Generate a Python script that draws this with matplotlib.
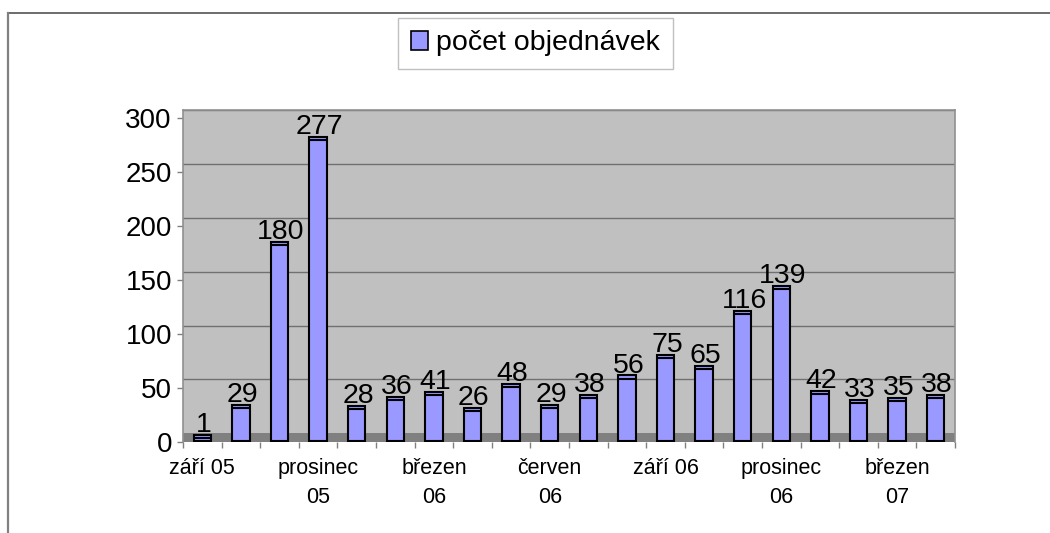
import matplotlib
matplotlib.use("Agg")
import matplotlib.pyplot as plt
from matplotlib.lines import Line2D
from matplotlib.patches import Patch

plt.rcParams['font.family'] = ['Liberation Sans', 'DejaVu Sans']

values = [1, 29, 180, 277, 28, 36, 41, 26, 48, 29, 38, 56, 75, 65, 116, 139, 42, 33, 35, 38]
label_idx = [0, 3, 6, 9, 12, 15, 18]
labels = ["září 05", "prosinec\n05", "březen\n06", "červen\n06", "září 06", "prosinec\n06", "březen\n07"]
yticks = [0, 50, 100, 150, 200, 250, 300]
series_name = "počet objednávek"

bar_color = "#9999FF"
depth = 7.8      # 3D depth of the wall (in data units)
front_top = 2.5  # front face top offset
cap_top = 5.5    # top face offset
base = 0.9

fig = plt.figure(figsize=(10.5, 5.33), dpi=100)
W, H = 1050, 533
ax = fig.add_axes([183 / W, 1 - 441.7 / H, (955 - 183) / W, (441.7 - 110) / H])
ax.set_facecolor("#C0C0C0")
ax.set_xlim(0, len(values))
ax.set_ylim(0, 300 + depth)

# floor
ax.axhspan(0, depth, color="#808080", zorder=1, lw=0)
# gridlines on back wall
for t in yticks[1:]:
    ax.axhline(t + depth, color="#707070", lw=1.0, zorder=1.5)

xs = [i + 0.5 for i in range(len(values))]
heights = [v + cap_top - base for v in values]
ax.bar(xs, heights, bottom=base, width=0.45, color=bar_color, edgecolor="black",
       linewidth=1.5, zorder=3)
for x, v in zip(xs, values):
    ax.plot([x - 0.225, x + 0.225], [v + front_top, v + front_top], color="black",
            lw=1.5, zorder=4, solid_capstyle="butt")
    ax.annotate(str(v), (x, v + cap_top), xytext=(1, 2), textcoords="offset points",
                ha="center", va="baseline", fontsize=20.5, zorder=5)

for s in ["top", "right", "left"]:
    ax.spines[s].set_color("#909090")
    ax.spines[s].set_linewidth(1.2)
ax.spines["bottom"].set_visible(False)

ax.set_yticks(yticks)
ax.set_yticklabels([str(t) for t in yticks], fontsize=20)
ax.tick_params(axis="y", length=4, width=1, color="#808080", pad=4)

ax.set_xticks([i + 0.5 for i in label_idx])
ax.set_xticklabels(labels, fontsize=15.5, linespacing=1.45, va="top")
ax.set_xticks(range(len(values) + 1), minor=True)
ax.tick_params(axis="x", which="major", length=0, pad=12)
ax.tick_params(axis="x", which="minor", length=4, width=1, color="#808080")

# outer frame lines
fig.add_artist(Line2D([7.5 / W, 1], [1 - 12.5 / H, 1 - 12.5 / H], color="#606060", lw=1.3))
fig.add_artist(Line2D([7.5 / W, 7.5 / W], [0, 1 - 12.5 / H], color="#808080", lw=1.6))

fig.legend(handles=[Patch(facecolor=bar_color, edgecolor="black", linewidth=1.2, label=series_name)],
           loc="center", bbox_to_anchor=(535.5 / W, 1 - 43.5 / H), fontsize=20.5,
           frameon=True, fancybox=False, edgecolor="#C0C0C0", framealpha=1,
           handlelength=0.6, handleheight=0.6, handletextpad=0.3, borderpad=0.45,
           borderaxespad=0)

fig.savefig("out.png", dpi=100)
